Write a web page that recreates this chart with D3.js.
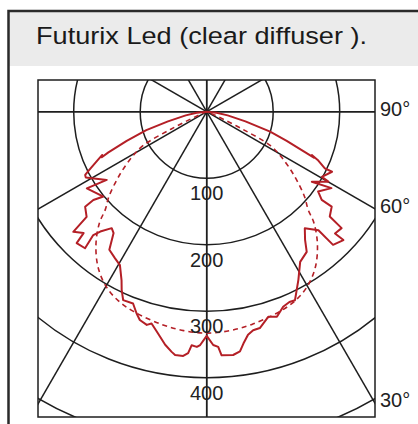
<!DOCTYPE html>
<html>
<head>
<meta charset="utf-8">
<script src="https://cdn.jsdelivr.net/npm/d3@7"></script>
<style>
  html, body { margin: 0; padding: 0; background: #ffffff; }
  svg { display: block; }
</style>
</head>
<body>
<svg id="chart" width="418" height="424"></svg>
<script>
// ---------------- data ----------------
const title = "Futurix Led (clear diffuser ).";
const ringValues = [100, 200, 300, 400, 500];
const ringLabels = ["100", "200", "300", "400"];
const radialAngles = [0, 30, 60, 90];
const angleLabelValues = [90, 60, 30];
const angleLabels = ["90°", "60°", "30°"];

// solid curve: gamma (deg, negative = left half), intensity (cd)
const solidGamma = [-90,-84,-80,-76,-73,-70,-67.5,-66.5,-67.5,-65.5,-63.5,-62.5,-61.5,-55.7,-57.4,-50.6,-52.1,-52,-48.8,-48,-45.4,-44.7,-41.7,-42.6,-41.6,-39.2,-37.5,-35.2,-32,-29.5,-26.8,-25.5,-23.9,-21,-19.2,-17.8,-15.7,-14.6,-12.8,-10.1,-8.3,-7.4,-5.5,-4.4,-3.7,-2.4,-1.6,0,
  1.6,2.8,3.5,6.2,7.9,9,10.5,12,13.8,16.7,18.9,21.4,23.5,25.1,28.6,31.9,35.5,37.5,40.1,43.3,43.5,46.8,46.5,49.2,49.6,52.8,52.5,54.4,58.5,56.3,60.1,60.5,64.4,64.4,66.5,67.6,66.8,70,72.5,76,80,84,90];
const solidIntensity = [0,15,32,60,95,128,160,172,170,183,198,206,207,182,214,201,216,232,240,270,260,278,275,252,241,226,230,254,260,265,284,297,310,309,321,329,333,329,339,356,365,369,369,364,352,354,351,337,
  351,354,367,368,364,353,341,336,335,322,326,315,312,313,288,266,259,243,229,245,276,282,266,268,243,236,218,206,220,190,211,199,209,197,182,171,176,128,100,60,32,15,0];

// dashed curve
const dashedGamma = [-90,-70,-66,-64,-62,-59,-54,-49,-46,-44,-40,-35,-30,-25,-20,-12,-6,0,6,12,20,25,30,35,40,44,46,49,54,59,62,64,66,70,90];
const dashedIntensity = [0,5,20,60,108,130,162,195,212,232,259,285,303,314,320,327,331,333,331,327,320,314,303,285,259,232,212,195,162,130,108,60,20,5,0];

// ---------------- layout ----------------
const svg = d3.select("#chart");
const box = { x0: 38, y0: 80, x1: 375, y1: 417 };
const cx = 206.7, cy = 111.7;
const ink = "#1e1e1e";
const red = "#b41f26";

const r = d3.scaleLinear().domain([0, 100]).range([0, 66.5]);
const toRad = d => (180 - d) * Math.PI / 180; // d3 radial angle, 0 = straight down

// outer frame and title band
svg.append("rect").attr("x", 9).attr("y", 12).attr("width", 420).attr("height", 54).attr("fill", "#ebebeb");
svg.append("path").attr("d", "M8.5,430V11H430").attr("fill", "none").attr("stroke", "#2a2a2a").attr("stroke-width", 2.5);
svg.append("text").attr("x", 36).attr("y", 44)
  .attr("font-family", "Liberation Sans, Arial, sans-serif").attr("font-size", 24.5).attr("fill", "#1a1a1a")
  .attr("textLength", 331).attr("lengthAdjust", "spacingAndGlyphs")
  .text(title);

// clip
svg.append("defs").append("clipPath").attr("id", "clip")
  .append("rect").attr("x", box.x0).attr("y", box.y0).attr("width", box.x1 - box.x0).attr("height", box.y1 - box.y0);

const g = svg.append("g").attr("clip-path", "url(#clip)");
const plot = g.append("g").attr("transform", `translate(${cx},${cy})`);

// rings
plot.selectAll("circle.ring").data(ringValues).enter().append("circle")
  .attr("r", d => r(d)).attr("fill", "none").attr("stroke", ink).attr("stroke-width", 1.5);

// radial lines (full lines through centre)
const L = 700;
radialAngles.forEach(a => {
  [a, -a].forEach(s => {
    const t = toRad(s);
    plot.append("line")
      .attr("x1", -L * Math.sin(t)).attr("y1", L * Math.cos(t))
      .attr("x2", L * Math.sin(t)).attr("y2", -L * Math.cos(t))
      .attr("stroke", ink).attr("stroke-width", 1.5);
  });
});

// curves
const radial = d3.lineRadial().angle(d => toRad(d[0])).radius(d => r(d[1]));
plot.append("path")
  .datum(dashedGamma.map((gm, i) => [gm, dashedIntensity[i]]))
  .attr("d", radial.curve(d3.curveCatmullRom.alpha(0.5)))
  .attr("fill", "none").attr("stroke", red).attr("stroke-width", 1.6).attr("stroke-dasharray", "5,4");

plot.append("path")
  .datum(solidGamma.map((gm, i) => [gm, solidIntensity[i]]))
  .attr("d", d3.lineRadial().angle(d => toRad(d[0])).radius(d => r(d[1])).curve(d3.curveLinear))
  .attr("fill", "none").attr("stroke", red).attr("stroke-width", 2).attr("stroke-linejoin", "round");

// box
svg.append("rect").attr("x", box.x0).attr("y", box.y0).attr("width", box.x1 - box.x0).attr("height", box.y1 - box.y0)
  .attr("fill", "none").attr("stroke", ink).attr("stroke-width", 1.5);

// ring labels
svg.selectAll("text.ringlab").data(ringLabels).enter().append("text")
  .attr("x", cx).attr("y", (d, i) => cy + r(ringValues[i]) + 15)
  .attr("text-anchor", "middle").attr("dominant-baseline", "central")
  .attr("font-family", "Liberation Sans, Arial, sans-serif").attr("font-size", 20).attr("fill", "#222")
  .text(d => d);

// angle labels on right edge
svg.selectAll("text.anglab").data(angleLabels).enter().append("text")
  .attr("x", 380)
  .attr("y", (d, i) => {
    const a = angleLabelValues[i] * Math.PI / 180;
    return cy + (box.x1 - cx) / Math.tan(a) - 3;
  })
  .attr("dominant-baseline", "central")
  .attr("font-family", "Liberation Sans, Arial, sans-serif").attr("font-size", 20).attr("fill", "#222")
  .text(d => d);
</script>
</body>
</html>
